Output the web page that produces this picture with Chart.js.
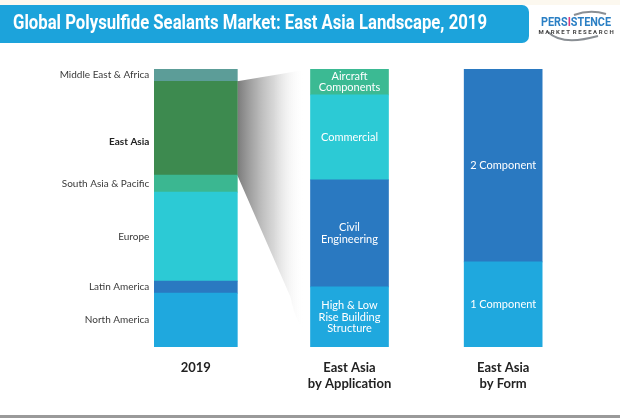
<!DOCTYPE html>
<html>
<head>
<meta charset="utf-8">
<script src="https://cdn.jsdelivr.net/npm/chart.js@4.4.1/dist/chart.umd.min.js"></script>
<style>
  html, body { margin: 0; padding: 0; background: #fff; }
  #wrap { position: relative; width: 620px; height: 418px; }
</style>
</head>
<body>
<div id="wrap"><canvas id="chart" width="620" height="418"></canvas></div>
<script>
'use strict'

// columns under the bars
const columns = [['2019'], ['East Asia', 'by Application'], ['East Asia', 'by Form']];

// 2019 share by region (%), bottom to top
const regions = ['North America', 'Latin America', 'Europe', 'South Asia & Pacific', 'East Asia', 'Middle East & Africa'];
const regionShare = [19.4, 4.3, 32.0, 6.1, 33.8, 4.4];
const regionColors = ['#1fa8de', '#2a79c1', '#2ccad5', '#3bb791', '#3d8a4f', '#5c9d98'];

// East Asia by application (%), bottom to top
const applications = [['High & Low', 'Rise Building', 'Structure'], ['Civil', 'Engineering'], ['Commercial'], ['Aircraft', 'Components']];
const appShare = [21.6, 38.5, 30.6, 9.3];
const appColors = ['#1fa8de', '#2a79c1', '#2ccad5', '#3bba93'];

// East Asia by form (%), bottom to top
const forms = [['1 Component'], ['2 Component']];
const formShare = [30.6, 69.4];
const formColors = ['#1fa8de', '#2a79c1'];

const titleText = 'Global Polysulfide Sealants Market: East Asia Landscape, 2019';

function makeSets(col, labels, values, colors, thickness) {
    return values.map((v, i) => {
        const data = [null, null, null];
        data[col] = v;
        return {
            label: Array.isArray(labels[i]) ? labels[i].join(' ') : labels[i],
            lines: Array.isArray(labels[i]) ? labels[i] : [labels[i]],
            col: col,
            data: data,
            backgroundColor: colors[i],
            borderWidth: 0,
            barThickness: thickness,
            stack: 's'
        };
    });
}

const datasets = [
    ...makeSets(0, regions, regionShare, regionColors, 83),
    ...makeSets(1, applications, appShare, appColors, 78),
    ...makeSets(2, forms, formShare, formColors, 78)
];

const eastAsiaIdx = regions.indexOf('East Asia');

const decor = {
    id: 'decor',
    beforeDatasetsDraw(chart) {
        const ctx = chart.ctx;
        // shaded zoom from the East Asia block to the application bar
        const ea = chart.getDatasetMeta(eastAsiaIdx).data[0];
        const firstApp = chart.getDatasetMeta(regions.length).data[1];
        const lastApp = chart.getDatasetMeta(regions.length + applications.length - 1).data[1];
        const x0 = ea.x + ea.width / 2;
        const x1 = firstApp.x - firstApp.width / 2;
        const g = ctx.createLinearGradient(x0, 0, x1 - 6, 0);
        g.addColorStop(0, 'rgba(115,115,115,0.95)');
        g.addColorStop(0.55, 'rgba(195,195,195,0.65)');
        g.addColorStop(1, 'rgba(255,255,255,0)');
        ctx.save();
        ctx.fillStyle = g;
        ctx.beginPath();
        ctx.moveTo(x0, ea.y);
        ctx.lineTo(x1, lastApp.y);
        ctx.lineTo(x1, firstApp.base - 12);
        ctx.quadraticCurveTo(x1 - 14, firstApp.base - 20, x1 - 20, firstApp.base - 50);
        ctx.lineTo(x0, ea.base);
        ctx.closePath();
        ctx.fill();
        ctx.restore();
    },
    afterDatasetsDraw(chart) {
        const ctx = chart.ctx;
        ctx.save();
        ctx.textBaseline = 'middle';
        chart.data.datasets.forEach((ds, i) => {
            const bar = chart.getDatasetMeta(i).data[ds.col];
            const cy = (bar.y + bar.base) / 2;
            if (ds.col === 0) {
                const bold = ds.label === 'East Asia';
                ctx.font = (bold ? 'bold ' : '') + '10px Lato';
                ctx.fillStyle = bold ? '#222' : '#3a3a3a';
                ctx.textAlign = 'right';
                ctx.fillText(ds.label, bar.x - bar.width / 2 - 5, cy + (bold ? 14 : 0));
            } else {
                ctx.font = '11px Lato';
                ctx.fillStyle = '#ffffff';
                ctx.textAlign = 'center';
                const lh = 11.5;
                const n = ds.lines.length;
                ds.lines.forEach((t, k) => {
                    ctx.fillText(t, bar.x, cy + (k - (n - 1) / 2) * lh);
                });
            }
        });
        // column captions
        const xs = chart.scales.x;
        ctx.font = 'bold 13px Lato';
        ctx.fillStyle = '#222';
        ctx.textAlign = 'center';
        columns.forEach((lines, i) => {
            const x = xs.getPixelForValue(i);
            lines.forEach((t, k) => {
                ctx.fillText(t, x, chart.chartArea.bottom + 21 + k * 16);
            });
        });
        ctx.restore();
    },
    afterDraw(chart) {
        const ctx = chart.ctx;
        ctx.save();
        // cream strip at the top
        ctx.fillStyle = '#fcf8ef';
        ctx.fillRect(0, 0, 620, 5);
        // title bar
        ctx.fillStyle = '#1ca3db';
        ctx.beginPath();
        ctx.roundRect(-10, 5, 539, 38, 7);
        ctx.fill();
        ctx.font = 'bold 20px "Liberation Sans Narrow", Roboto, sans-serif';
        const w = ctx.measureText(titleText).width;
        ctx.translate(13, 24);
        ctx.scale(474 / w, 1);
        ctx.fillStyle = '#ffffff';
        ctx.textBaseline = 'middle';
        ctx.textAlign = 'left';
        ctx.fillText(titleText, 0, 0);
        ctx.restore();

        // logo
        ctx.save();
        ctx.strokeStyle = '#8a8f94';
        ctx.lineWidth = 2;
        ctx.beginPath();
        ctx.moveTo(548, 32);
        ctx.quadraticCurveTo(562, 46, 598, 36);
        ctx.stroke();
        ctx.beginPath();
        ctx.moveTo(574, 15);
        ctx.quadraticCurveTo(590, 9, 606, 14);
        ctx.stroke();
        ctx.font = 'bold 12px "Liberation Sans Narrow", Roboto, sans-serif';
        const lw = ctx.measureText('PERSISTENCE').width;
        ctx.translate(541, 23);
        ctx.scale(70 / lw, 1);
        ctx.textBaseline = 'middle';
        ctx.fillStyle = '#2a7fc4';
        ctx.fillText('PERS', 0, 0);
        const a = ctx.measureText('PERS').width;
        ctx.fillStyle = '#d93a7d';
        ctx.fillText('I', a, 0);
        const b = ctx.measureText('PERSI').width;
        ctx.fillStyle = '#2a7fc4';
        ctx.fillText('STENCE', b, 0);
        ctx.restore();
        ctx.save();
        ctx.font = 'bold 6px Roboto';
        ctx.fillStyle = '#444';
        ctx.textAlign = 'center';
        ctx.textBaseline = 'middle';
        ctx.fillText('M A R K E T  R E S E A R C H', 576, 32);
        // bottom rule
        ctx.fillStyle = '#9a9a9a';
        ctx.fillRect(0, 415, 620, 3);
        ctx.restore();
    }
};

new Chart(document.getElementById('chart').getContext('2d'), {
    type: 'bar',
    data: { labels: columns.map(c => c.join(' ')), datasets: datasets },
    options: {
        responsive: false,
        animation: false,
        events: [],
        layout: { padding: { left: 119, right: 40, top: 69, bottom: 71 } },
        categoryPercentage: 1,
        barPercentage: 0.52,
        scales: {
            x: { display: false, stacked: true },
            y: { display: false, stacked: true, min: 0, max: 100 }
        },
        plugins: { legend: { display: false }, tooltip: { enabled: false } }
    },
    plugins: [decor]
});
</script>
</body>
</html>
